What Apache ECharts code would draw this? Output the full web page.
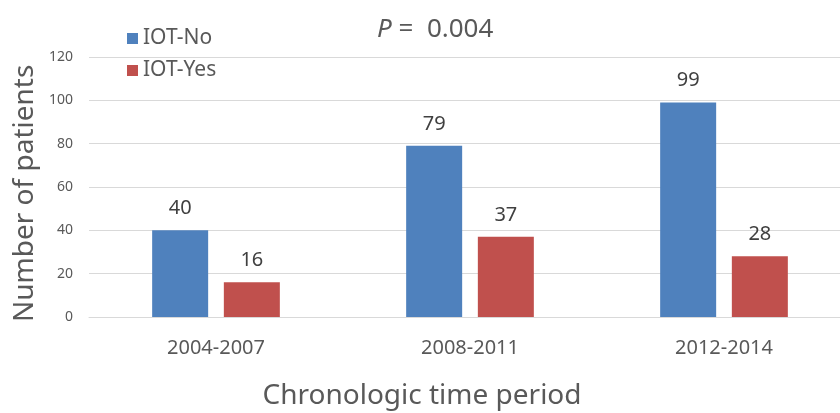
<!DOCTYPE html>
<html>
<head>
<meta charset="utf-8">
<script src="https://cdn.jsdelivr.net/npm/echarts@6/dist/echarts.min.js"></script>
<style>
  html, body { margin: 0; padding: 0; background: #fff; }
  #chart { width: 840px; height: 413px; }
</style>
</head>
<body>
<div id="chart"></div>
<script>
// 시기별 IOT 환자 수
var periods = ['2004-2007', '2008-2011', '2012-2014']
var iotNo = [40, 79, 99]
var iotYes = [16, 37, 28]
var yTicks = [0, 20, 40, 60, 80, 100, 120]

var font = 'Noto Sans'
var grey = '#595959'
var myChart = echarts.init(document.getElementById('chart'))

myChart.setOption({
    animation: false,
    textStyle: { fontFamily: font },
    title: {
        text: '{p|P} =  0.004',
        left: 372,
        top: 12,
        textStyle: {
            fontFamily: font,
            fontSize: 26,
            fontWeight: 'normal',
            color: grey,
            rich: {
                p: { fontFamily: font, fontSize: 26, fontStyle: 'italic', color: grey }
            }
        }
    },
    legend: {
        orient: 'vertical',
        left: 122,
        top: 23,
        itemWidth: 11,
        itemHeight: 11,
        itemGap: 11,
        icon: 'rect',
        textStyle: { fontFamily: font, fontSize: 21, color: grey },
        data: ['IOT-No', 'IOT-Yes']
    },
    grid: {
        left: 89,
        top: 57,
        bottom: 96,
        width: 762,          // runs a bit past the right edge, like the source
        outerBoundsMode: 'none',
        containLabel: false
    },
    xAxis: {
        type: 'category',
        data: periods,
        axisTick: { show: false },
        axisLine: { lineStyle: { color: '#d9d9d9' } },
        axisLabel: { fontFamily: font, fontSize: 20, color: grey, margin: 21 }
    },
    yAxis: {
        type: 'value',
        min: yTicks[0],
        max: yTicks[yTicks.length - 1],
        interval: 20,
        axisLine: { show: false },
        axisTick: { show: false },
        splitLine: { lineStyle: { color: '#d9d9d9' } },
        axisLabel: { fontFamily: font, fontSize: 14, color: grey, margin: 16 }
    },
    graphic: [
        {
            type: 'text',
            x: 422,
            y: 396,
            style: {
                text: 'Chronologic time period',
                font: '28px "Noto Sans"',
                fill: grey,
                align: 'center',
                verticalAlign: 'middle'
            }
        },
        {
            type: 'text',
            x: 11,
            y: 322,
            rotation: Math.PI / 2,
            style: { text: 'Number of patients', font: '28px "Noto Sans"', fill: grey }
        }
    ],
    series: [
        {
            name: 'IOT-No',
            type: 'bar',
            data: iotNo,
            barWidth: 56,
            barGap: '28%',
            itemStyle: { color: '#4f81bd' },
            label: { show: true, position: 'top', distance: 12, fontFamily: font, fontSize: 20, color: '#404040' }
        },
        {
            name: 'IOT-Yes',
            type: 'bar',
            data: iotYes,
            barWidth: 56,
            itemStyle: { color: '#c0504d' },
            label: { show: true, position: 'top', distance: 12, fontFamily: font, fontSize: 20, color: '#404040' }
        }
    ]
})
</script>
</body>
</html>
